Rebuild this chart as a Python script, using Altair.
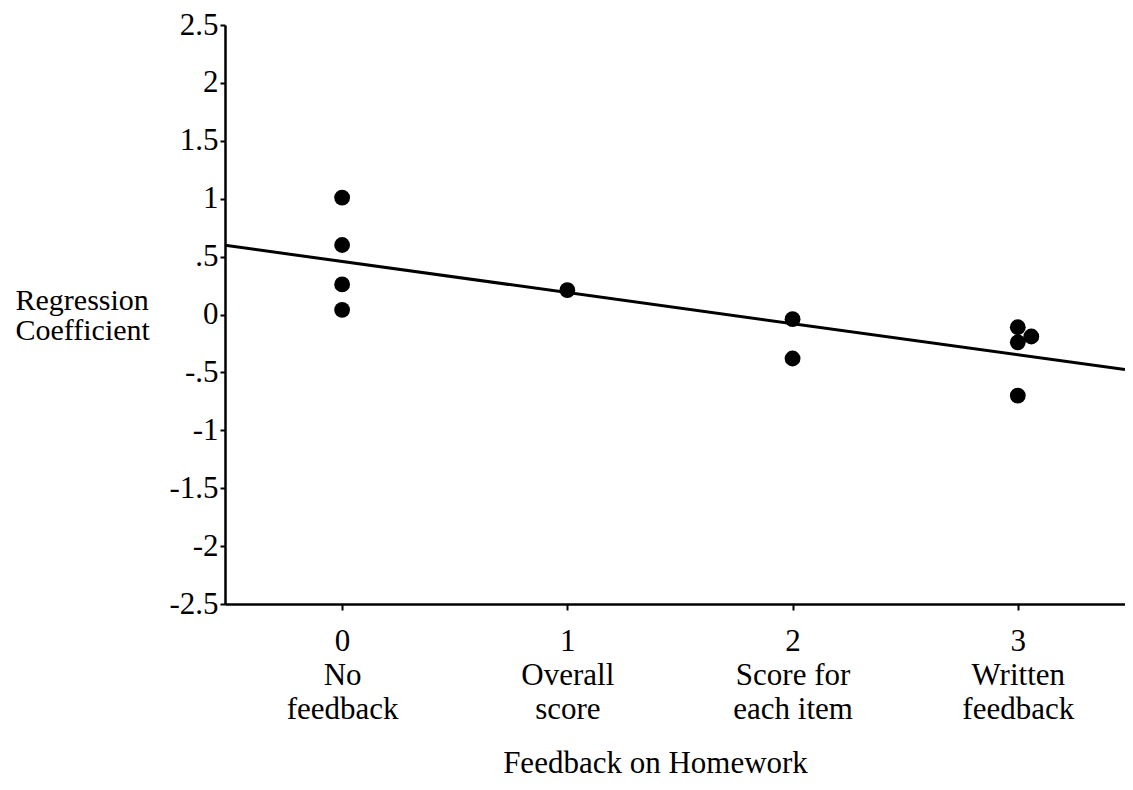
import altair as alt
import pandas as pd

# Data
feedback_level = [0, 0, 0, 0, 1, 2, 2, 3, 3.06, 3, 3]
coefficient = [1.01, 0.60, 0.26, 0.04, 0.21, -0.04, -0.38, -0.11, -0.19, -0.24, -0.70]

x_ticks = [0, 1, 2, 3]
x_tick_names = [["No", "feedback"], ["Overall", "score"], ["Score for", "each item"], ["Written", "feedback"]]
y_ticks = [-2.5 + 0.25 * i for i in range(21)]

df = pd.DataFrame({"x": feedback_level, "y": coefficient})

FONT = "Liberation Serif"
X_DOMAIN = [-0.52, 3.476]
Y_DOMAIN = [-2.5, 2.5]

# x label expression built from the tick names
parts = []
for v, names in zip(x_ticks, x_tick_names):
    arr = "[" + ",".join("'" + s + "'" for s in [str(v)] + names) + "]"
    parts.append(f"datum.value == {v} ? {arr} : ")
x_label_expr = "".join(parts) + "''"

y_label_expr = (
    "datum.value % 0.5 != 0 ? '' : (datum.value == 0 ? '0' : "
    "replace(toString(datum.value), '0.', '.'))"
)

x_enc = alt.X(
    "x:Q",
    scale=alt.Scale(domain=X_DOMAIN, nice=False, zero=False),
    axis=alt.Axis(
        values=x_ticks,
        labelExpr=x_label_expr,
        title="Feedback on Homework",
        titleFont=FONT,
        titleFontSize=31,
        titleFontWeight="normal",
        titleColor="black",
        titleBaseline="alphabetic",
        titleAnchor="start",
        titleAlign="center",
        titleX=430,
        titleY=168,
        labelFont=FONT,
        labelFontSize=31,
        labelColor="black",
        labelLineHeight=34,
        labelBaseline="top",
        labelPadding=16,
        labelFlush=False,
        labelOverlap=False,
        tickSize=6,
        tickWidth=2,
        tickColor="black",
        domainColor="black",
        domainWidth=2.5,
        grid=False,
    ),
)

y_enc = alt.Y(
    "y:Q",
    scale=alt.Scale(domain=Y_DOMAIN, nice=False, zero=False),
    axis=alt.Axis(
        values=y_ticks,
        labelExpr=y_label_expr,
        title=["Regression", "Coefficient"],
        titleFont=FONT,
        titleFontSize=30,
        titleFontWeight="normal",
        titleColor="black",
        titleAngle=0,
        titleAlign="left",
        titleBaseline="alphabetic",
        titleX=-210,
        titleY=284,
        titleLineHeight=30,
        labelFont=FONT,
        labelFontSize=31,
        labelColor="black",
        labelPadding=2,
        labelFlush=False,
        labelOverlap=False,
        tickSize={"condition": {"test": "datum.value % 0.5 == 0", "value": 5}, "value": 3},
        tickWidth=2,
        tickColor="black",
        domainColor="black",
        domainWidth=2.5,
        grid=False,
    ),
)

base = alt.Chart(df)

points = base.mark_circle(size=250, color="black", opacity=1).encode(x=x_enc, y=y_enc)

line = (
    base.transform_regression("x", "y", extent=X_DOMAIN)
    .mark_line(color="black", strokeWidth=3, clip=True)
    .encode(x=alt.X("x:Q"), y=alt.Y("y:Q"))
)

chart = (
    alt.layer(points, line)
    .properties(
        width=900,
        height=579,
        padding={"left": 217, "top": 17, "right": 0, "bottom": 182},
        autosize=alt.AutoSizeParams(type="none"),
        background="white",
    )
    .configure_view(stroke=None)
)

chart.save("out.html", embed_options={"renderer": "svg", "actions": False})
